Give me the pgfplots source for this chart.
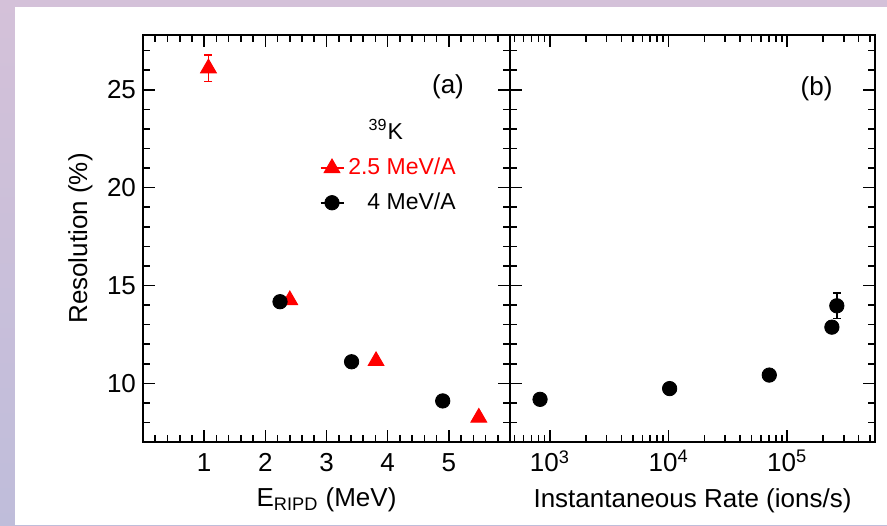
\documentclass[border=0pt]{standalone}
\usepackage{fontspec}
\setmainfont{Liberation Sans}
\usepackage{pgfplots}
\pgfplotsset{compat=1.18}

\definecolor{bgtop}{HTML}{D4C1D9}
\definecolor{bgbot}{HTML}{BFBDDA}

\pgfplotsset{
  panel/.style={
    scale only axis,
    height=203.5pt,
    ymin=7, ymax=27.8,
    ytick={10,15,20,25},
    minor ytick={8,9,11,12,13,14,16,17,18,19,21,22,23,24,26,27},
    tick align=inside, tick pos=both,
    xticklabel pos=bottom, yticklabel pos=left,
    major tick length=6pt, minor tick length=3.5pt,
    axis line style={line width=0.9pt, black},
    every tick/.append style={line width=0.8pt, black},
    every minor tick/.append style={line width=0.8pt, black},
    /pgf/number format/assume math mode=true,
    tick label style={font=\fontsize{13}{15}\selectfont, black},
    label style={font=\fontsize{13}{15}\selectfont, black},
    clip=false,
  },
}

\begin{document}
\begin{tikzpicture}
\shade[top color=bgtop, bottom color=bgbot] (0,0) rectangle (443.5pt,262.5pt);
\fill[white] (7.5pt,0) rectangle (443.5pt,259pt);

% ---------------- panel (a)
\begin{axis}[panel,
  at={(71.5pt,41.5pt)}, anchor=south west,
  width=183.5pt,
  xmin=0, xmax=6, xtick={1,2,3,4,5},
  minor xtick={0.2,0.4,0.6,0.8,1.2,1.4,1.6,1.8,2.2,2.4,2.6,2.8,3.2,3.4,3.6,3.8,4.2,4.4,4.6,4.8,5.2,5.4,5.6,5.8},
  xticklabel shift=2.2pt,
  xlabel={E\textsubscript{RIPD} (MeV)},
  xlabel style={at={(rel axis cs:0.5,0)}, anchor=base, yshift=-32pt},
  ylabel={Resolution (\%)},
  ylabel style={at={(rel axis cs:-0.152,0.5)}, anchor=base, rotate=0},
  legend style={at={(rel axis cs:0.864,0.708)}, anchor=north east,
    draw=none, fill=none, font=\fontsize{11.5}{13}\selectfont,
    row sep=3.5pt, inner sep=0pt},
  legend cell align=right,
  legend image code/.code={%
    \draw[#1, mark=none, line width=0.8pt] (0pt,0pt) -- (11.5pt,0pt);
    \draw[mark repeat=2, mark phase=2, #1] plot coordinates {(0pt,0pt) (5.75pt,0pt) (11.5pt,0pt)};
  },
]
\addplot[only marks, red, mark=triangle*, mark size=4.5pt,
  mark options={fill=red, draw=red, line width=0.5pt},
  error bars/.cd, y dir=both, y explicit,
  error bar style={line width=0.8pt, red},
  error mark options={rotate=90, mark size=2pt, line width=0.8pt, red}]
  coordinates {(1.07,26.1) +- (0,0.67) (2.40,14.25) +- (0,0) (3.81,11.14) +- (0,0) (5.49,8.25) +- (0,0)};
\addlegendentry{\textcolor{red}{2.5 MeV/A}}
\addplot[only marks, black, mark=*, mark size=3.6pt,
  mark options={fill=black, draw=black}]
  coordinates {(2.24,14.17) (3.41,11.1) (4.90,9.1)};
\addlegendentry{4 MeV/A}
\node[font=\fontsize{11.5}{13}\selectfont, anchor=base east] at (rel axis cs:0.7275,0.744) {\textsuperscript{39}K};
\node[font=\fontsize{13}{15}\selectfont] at (rel axis cs:0.831,0.872) {(a)};
\end{axis}

% ---------------- panel (b)
\begin{axis}[panel,
  at={(255pt,41.5pt)}, anchor=south west,
  width=182.5pt,
  xmode=log, xmin=460, xmax=5.5e5,
  xtick={1000,10000,100000},
  xticklabels={10\textsuperscript{3},10\textsuperscript{4},10\textsuperscript{5}},
  minor xtick={500,600,700,800,900,2000,3000,4000,5000,6000,7000,8000,9000,20000,30000,40000,50000,60000,70000,80000,90000,200000,300000,400000,500000},
  xticklabel shift=0.7pt,
  yticklabels={},
  xlabel={Instantaneous Rate (ions/s)},
  xlabel style={at={(rel axis cs:0.5,0)}, anchor=base, yshift=-32.5pt},
]
\addplot[only marks, black, mark=*, mark size=3.6pt,
  mark options={fill=black, draw=black},
  error bars/.cd, y dir=both, y explicit,
  error bar style={line width=0.8pt, black},
  error mark options={rotate=90, mark size=2pt, line width=0.8pt, black}]
  coordinates {(824,9.18) +- (0,0) (10200,9.73) +- (0,0) (70600,10.42) +- (0,0) (238000,12.87) +- (0,0) (262000,13.96) +- (0,0.64)};
\node[font=\fontsize{13}{15}\selectfont] at (rel axis cs:0.840,0.869) {(b)};
\end{axis}

\pgfresetboundingbox
\useasboundingbox (0,0) rectangle (443.5pt,262.5pt);
\end{tikzpicture}
\end{document}
